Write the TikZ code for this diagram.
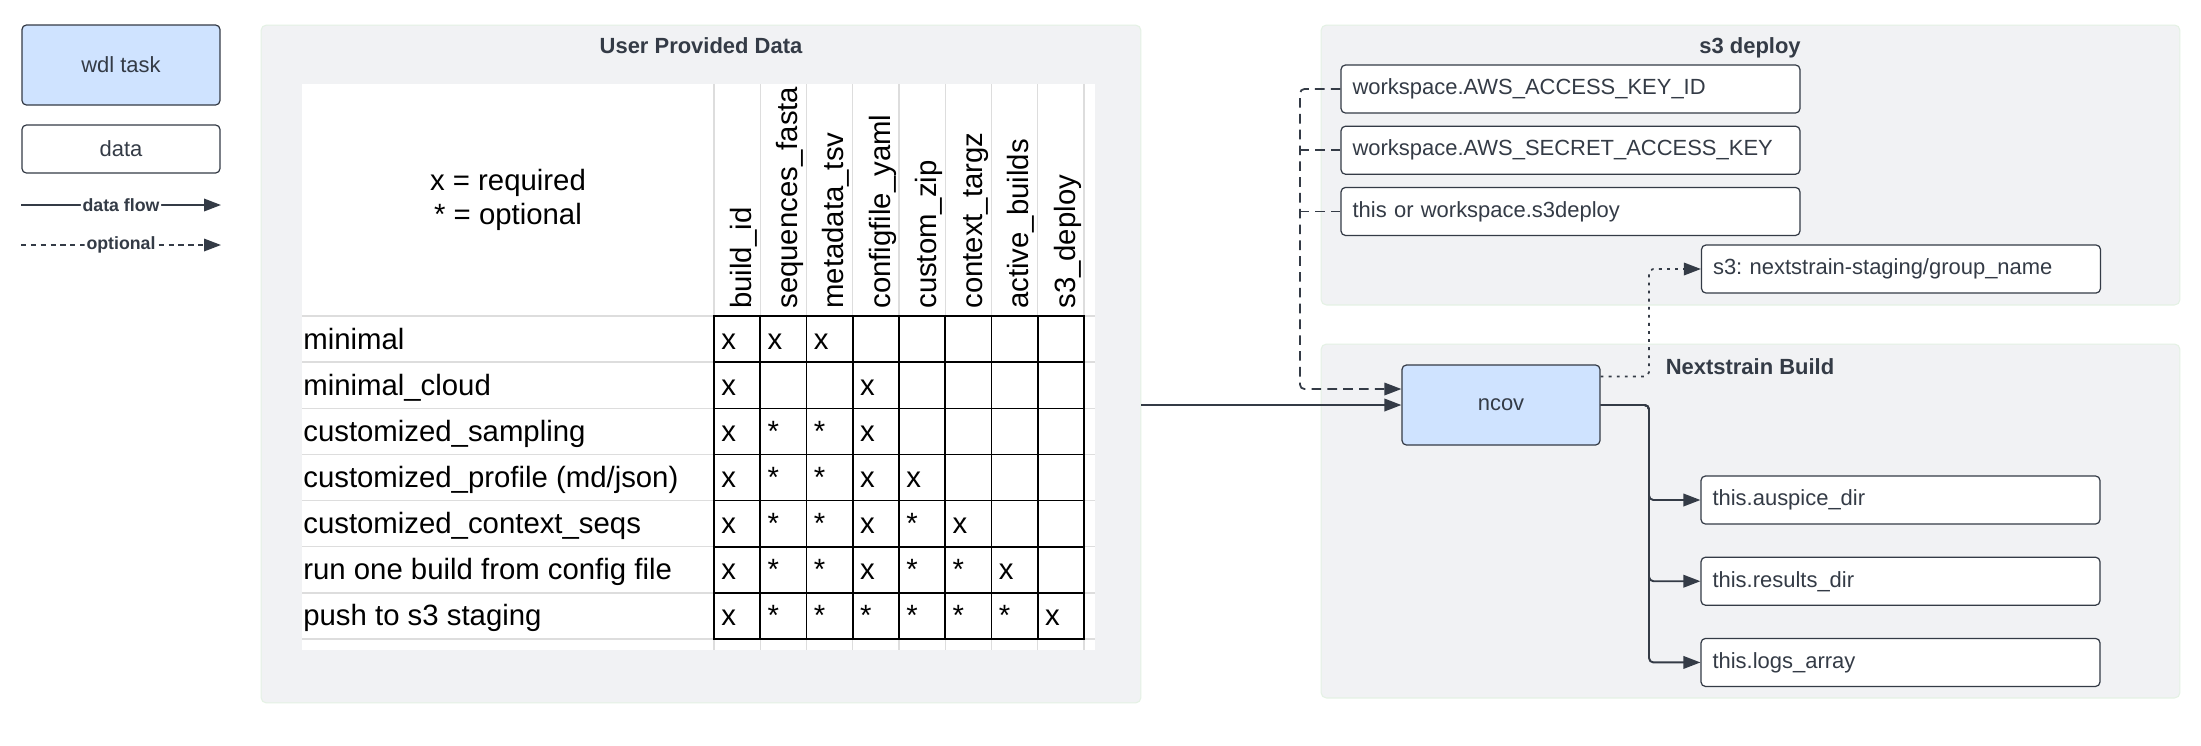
\documentclass[tikz,border=0pt]{standalone}
\usepackage{fontspec}
\setmainfont{Liberation Sans}
\frenchspacing
\usetikzlibrary{arrows.meta,positioning}
\definecolor{ink}{HTML}{343B46}
\definecolor{taskblue}{HTML}{CFE3FF}
\definecolor{panelfill}{HTML}{F1F2F4}
\definecolor{paneledge}{HTML}{E4F1E4}
\definecolor{sheetline}{HTML}{DDDDDD}
\tikzset{
  panel/.style={fill=panelfill, draw=paneledge, line width=.6pt, rounded corners=3pt},
  paneltitle/.style={text=ink, font=\bfseries\fontsize{12.5}{15}\selectfont},
  wdltask/.style={draw=ink, fill=taskblue, line width=.7pt, rounded corners=2.5pt, text=ink,
    font=\fontsize{12.5}{15}\selectfont, minimum width=3.96cm, minimum height=1.6cm},
  databox/.style={draw=ink, fill=white, line width=.7pt, rounded corners=2.5pt, text=ink,
    font=\fontsize{12.5}{15}\selectfont, minimum height=.96cm, inner xsep=.23cm, align=left},
  flow/.style={draw=ink, line width=1.1pt, rounded corners=2.5pt, -{Triangle[length=.34cm,width=.25cm]}},
  optflow/.style={flow, line width=1pt, dash pattern=on 5.5pt off 3.5pt},
  dotflow/.style={flow, line width=1pt, dash pattern=on 1.6pt off 3pt},
  leglabel/.style={fill=white, inner sep=1pt, text=ink, font=\bfseries\fontsize{10.1}{12}\selectfont},
  tabtext/.style={inner sep=0pt, font=\fontsize{16.7}{20}\selectfont},
  rowlabel/.style={tabtext, anchor=base west},
  colhead/.style={tabtext, anchor=base west, rotate=90},
  cellmark/.style={tabtext, anchor=base west},
  sheetrule/.style={draw=sheetline, line width=.8pt},
  cellrule/.style={draw=black, line width=.9pt, line cap=rect},
}
\begin{document}
\begin{tikzpicture}[x=0.02cm, y=-0.02cm, line join=round]
\useasboundingbox (0,0) rectangle (2201,745);
% legend
\node[wdltask] (legtask) at (121,65) {wdl task};
\node[databox, minimum width=3.96cm, align=center] (legdata) at (121,149) {data};
\coordinate (flowfrom) at (21,205); \coordinate (flowto) at (221,205);
\draw[flow] (flowfrom) -- node[leglabel] (flowlab) {data flow} (flowto);
\coordinate (optfrom) at (21,245); \coordinate (optto) at (221,245);
\draw[optflow, dash pattern=on 3pt off 2.6pt] (optfrom) -- node[leglabel] (optlab) {optional} (optto);

% user provided data
\node[panel, minimum width=17.6cm, minimum height=13.56cm] (userdata) at (701,364) {};
\node[paneltitle] (userdatatitle) at (701,46) {User Provided Data};
\fill[white] (302,84) rectangle (1095,650);
\foreach \r in {0,...,7}
  \draw[sheetrule] (302,316+46.15*\r) -- (1095,316+46.15*\r);
\foreach \c in {0,...,8} {
  \draw[sheetrule] (714+46.25*\c,84) -- (714+46.25*\c,316);
  \draw[sheetrule] (714+46.25*\c,639) -- (714+46.25*\c,650);
}
\foreach \c in {0,...,8}
  \draw[cellrule] (714+46.25*\c,316) -- (714+46.25*\c,639);
\foreach \r in {0,...,7}
  \draw[cellrule] (714,316+46.15*\r) -- (1084,316+46.15*\r);
\node[tabtext, align=center, font=\fontsize{16.7}{19.8}\selectfont] (keynote) at (508,200) {x = required\\{*} = optional};
\foreach \h [count=\c] in {build\_id, sequences\_fasta, metadata\_tsv, configfile\_yaml, custom\_zip, context\_targz, active\_builds, s3\_deploy}
  \node[colhead] (head\c) at (714+46.25*\c-9,309) {\h};
\foreach \lab [count=\r from 0] in {minimal, minimal\_cloud, customized\_sampling, customized\_profile (md/json), customized\_context\_seqs, run one build from config file, push to s3 staging}
  \node[rowlabel] (row\r) at (303,349+46.15*\r) {\lab};
\foreach \marks [count=\r from 0] in {{x,x,x}, {x,{},{},x}, {x,*,*,x}, {x,*,*,x,x}, {x,*,*,x,*,x}, {x,*,*,x,*,*,x}, {x,*,*,*,*,*,*,x}}
  \foreach \m [count=\c from 0] in \marks
    \node[cellmark] (mark\r\c) at (721+46.25*\c,349+46.15*\r) {\m};

% s3 deploy
\node[panel, minimum width=17.18cm, minimum height=5.6cm] (s3panel) at (1750.5,165) {};
\node[paneltitle] (s3title) at (1750,48) {s3 deploy};
\node[databox, text width=8.72cm] (keyid) at (1570.5,89) {workspace.AWS\_ACCESS\_KEY\_ID};
\node[databox, text width=8.72cm, below=.24cm of keyid] (secret) {workspace.AWS\_SECRET\_ACCESS\_KEY};
\node[databox, text width=8.72cm, below=.24cm of secret] (deploy) {this or workspace.s3deploy};
\node[databox, text width=7.52cm] (bucket) at (1901,269) {s3: nextstrain-staging/group\_name};

% nextstrain build
\node[panel, minimum width=17.18cm, minimum height=7.08cm] (buildpanel) at (1750.5,521) {};
\node[paneltitle] (buildtitle) at (1750,367) {Nextstrain Build};
\node[wdltask] (ncov) at (1501,405) {ncov};
\node[databox, text width=7.52cm] (auspice) at (1900.5,500) {this.auspice\_dir};
\node[databox, text width=7.52cm, below=.64cm of auspice] (results) {this.results\_dir};
\node[databox, text width=7.52cm, below=.64cm of results] (logs) {this.logs\_array};

% connectors
\draw[flow] (userdata.east |- ncov.west) -- (ncov.west);
\coordinate (fork) at (1649,405);
\foreach \out in {auspice,results,logs}
  \draw[flow] (ncov.east) -- (fork) |- (\out.west);
\coordinate (credtrunk) at (1300,389);
\draw[optflow] (keyid.west) -| (credtrunk) -- ([yshift=.32cm]ncov.west);
\draw[optflow, -] (secret.west) -- (secret.west -| credtrunk);
\draw[optflow, -] (deploy.west) -- (deploy.west -| credtrunk);
\draw[dotflow] ([yshift=-.24cm]ncov.north east) -| (bucket.west -| fork) -- (bucket.west);
\end{tikzpicture}
\end{document}
